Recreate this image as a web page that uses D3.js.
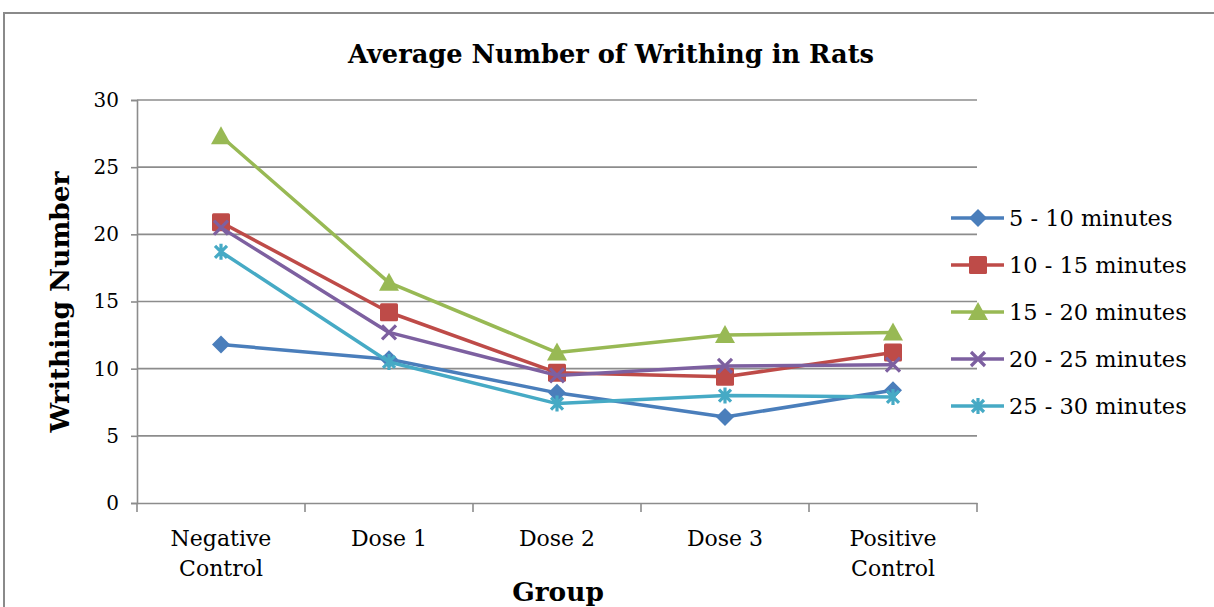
<!DOCTYPE html>
<html><head><meta charset="utf-8">
<script src="https://cdn.jsdelivr.net/npm/d3@7"></script>
<style>body{margin:0;background:#fff}svg{display:block}text{font-family:"DejaVu Serif",serif;fill:#000}</style>
</head><body><svg id="c" width="1214" height="607"></svg>
<script>
const categories = ["Negative|Control","Dose 1","Dose 2","Dose 3","Positive|Control"];
const seriesNames = ["5 - 10 minutes","10 - 15 minutes","15 - 20 minutes","20 - 25 minutes","25 - 30 minutes"];
const s1 = [11.8,10.7,8.2,6.4,8.4];
const s2 = [20.9,14.2,9.7,9.4,11.2];
const s3 = [27.3,16.4,11.2,12.5,12.7];
const s4 = [20.5,12.7,9.5,10.2,10.3];
const s5 = [18.7,10.5,7.4,8.0,7.9];
const yTicks = [0,5,10,15,20,25,30];
const colors = ["#4A7EBB","#BE4B48","#98B954","#7D60A0","#46AAC5"];
const markers = ["diamond","square","triangle","x","star"];
const allSeries = [s1,s2,s3,s4,s5];
const FONT = "'DejaVu Serif', serif";

const svg = d3.select("#c");
const L=137,R=977,T=100,B=503;
const x = d3.scaleBand().domain(categories).range([L,R]);
const y = d3.scaleLinear().domain([0,30]).range([B,T]);

svg.append("rect").attr("x",4).attr("y",13).attr("width",1230).attr("height",620)
  .attr("fill","none").attr("stroke","#8a8a8a").attr("stroke-width",2);

svg.append("g").selectAll("line").data(yTicks.filter(d=>d>0)).join("line")
  .attr("x1",L).attr("x2",R).attr("y1",d=>y(d)).attr("y2",d=>y(d))
  .attr("stroke","#8c8c8c").attr("stroke-width",1.6);

const ya = svg.append("g").attr("transform",`translate(${L},0)`)
  .call(d3.axisLeft(y).tickValues(yTicks).tickSize(6).tickPadding(12));
ya.select(".domain").attr("stroke","#8c8c8c").attr("stroke-width",1.6);
ya.selectAll(".tick line").attr("stroke","#8c8c8c").attr("stroke-width",1.6);
ya.selectAll(".tick text").style("font-size","20px").style("font-family",FONT).attr("fill","#000");

const xa = svg.append("g").attr("transform",`translate(0,${B})`)
  .call(d3.axisBottom(x).tickSize(0).tickFormat(""));
xa.select(".domain").attr("stroke","#8c8c8c").attr("stroke-width",1.6);
const bounds = categories.map(c=>x(c)).concat([R]);
xa.append("g").selectAll("line").data(bounds).join("line")
  .attr("x1",d=>d).attr("x2",d=>d).attr("y1",0).attr("y2",9)
  .attr("stroke","#8c8c8c").attr("stroke-width",1.6);
const xl = svg.append("g").selectAll("text").data(categories).join("text")
  .attr("x",d=>x(d)+x.bandwidth()/2).attr("y",546).attr("text-anchor","middle")
  .style("font-size","22px").style("font-family",FONT);
xl.each(function(d){
  const parts = d.split("|");
  d3.select(this).selectAll("tspan").data(parts).join("tspan")
    .attr("x",x(d)+x.bandwidth()/2).attr("dy",(p,i)=>i?"30px":0).text(p=>p);
});

svg.append("text").attr("x",611).attr("y",63).attr("text-anchor","middle")
  .style("font-size","25.7px").style("font-weight","bold").style("font-family",FONT).text("Average Number of Writhing in Rats");
svg.append("text").attr("x",558).attr("y",601).attr("text-anchor","middle")
  .style("font-size","26.4px").style("font-weight","bold").style("font-family",FONT).text("Group");
svg.append("text").attr("transform","translate(69,302) rotate(-90)").attr("text-anchor","middle")
  .style("font-size","26.4px").style("font-weight","bold").style("font-family",FONT).text("Writhing Number");

function drawMarker(g,type,color){
  if(type==="diamond") g.append("path").attr("d","M0,-9L9,0L0,9L-9,0Z").attr("fill",color);
  else if(type==="square") g.append("rect").attr("x",-9).attr("y",-9).attr("width",18).attr("height",18).attr("rx",1.5).attr("fill",color);
  else if(type==="triangle") g.append("path").attr("d","M0,-10L10,8L-10,8Z").attr("fill",color);
  else if(type==="x") g.append("path").attr("d","M-7,-7L7,7M-7,7L7,-7").attr("stroke",color).attr("stroke-width",3.2);
  else if(type==="star") g.append("path").attr("d","M-6,-6L6,6M-6,6L6,-6M0,-8L0,8").attr("stroke",color).attr("stroke-width",3.2);
}

const line = d3.line().x((d,i)=>x(categories[i])+x.bandwidth()/2).y(d=>y(d));
allSeries.forEach((s,k)=>{
  svg.append("path").datum(s).attr("d",line).attr("fill","none")
    .attr("stroke",colors[k]).attr("stroke-width",3.5).attr("stroke-linejoin","round");
  s.forEach((v,i)=>{
    const g = svg.append("g").attr("transform",`translate(${x(categories[i])+x.bandwidth()/2},${y(v)})`);
    drawMarker(g,markers[k],colors[k]);
  });
});

const lg = svg.append("g");
seriesNames.forEach((n,k)=>{
  const cy = 218 + k*47;
  lg.append("line").attr("x1",951).attr("x2",1004).attr("y1",cy).attr("y2",cy)
    .attr("stroke",colors[k]).attr("stroke-width",3.5);
  drawMarker(lg.append("g").attr("transform",`translate(978,${cy})`),markers[k],colors[k]);
  lg.append("text").attr("x",1009).attr("y",cy+8).style("font-size","22.5px").style("font-family",FONT).text(n);
});
</script></body></html>
